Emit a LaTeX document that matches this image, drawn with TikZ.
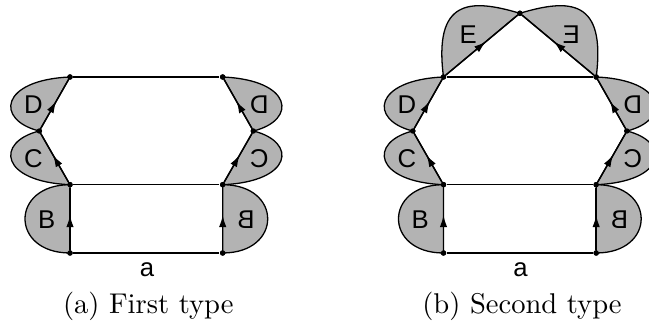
\documentclass[tikz,border=0pt]{standalone}
\usepackage{fontspec}
\setsansfont{Liberation Sans}
\usepackage{graphicx}
\usetikzlibrary{arrows.meta,decorations.markings}
\definecolor{LobeGray}{HTML}{B3B3B3}
\tikzset{
  lobe/.style={draw=black,fill=LobeGray,line width=.45pt},
  edge/.style={draw=black,line width=.5pt},
  midarrow/.style={postaction={decorate},decoration={markings,
    mark=at position .56 with {\arrow{Latex[length=4.2pt,width=2.6pt]}}}},
  vertex/.style={circle,fill=black,inner sep=0pt,minimum size=1.9pt},
  letter/.style={font=\sffamily\small,inner sep=0pt},
  caption/.style={font=\normalsize,inner sep=0pt}
}
\begin{document}
\begin{tikzpicture}[x=.35pt,y=-.35pt]
  \useasboundingbox (0,0) rectangle (649,329);
  \clip (0,0) rectangle (649,329);
  % first type
  \node[vertex] (aBL) at (70,253) {};
  \node[vertex] (aBR) at (222.7,253) {};
  \node[vertex] (aML) at (70,184.7) {};
  \node[vertex] (aMR) at (222.7,184.7) {};
  \node[vertex] (aJL) at (39.3,131) {};
  \node[vertex] (aJR) at (253.4,131) {};
  \node[vertex] (aTL) at (70,77) {};
  \node[vertex] (aTR) at (222.7,77) {};
  \fill[lobe] (aML.center) .. controls +(-60,0) and +(-60,0) .. (aBL.center) -- cycle;
  \fill[lobe] (aJL.center) .. controls +(-44.3,11) and +(-70,-3) .. (aML.center) -- cycle;
  \fill[lobe] (aJL.center) .. controls +(-44.3,-11) and +(-70,3) .. (aTL.center) -- cycle;
  \fill[lobe] (aMR.center) .. controls +(60,0) and +(60,0) .. (aBR.center) -- cycle;
  \fill[lobe] (aJR.center) .. controls +(44.3,11) and +(70,-3) .. (aMR.center) -- cycle;
  \fill[lobe] (aJR.center) .. controls +(44.3,-11) and +(70,3) .. (aTR.center) -- cycle;
  \draw[edge] (aBL)--(aBR); \draw[edge] (aML)--(aMR); \draw[edge] (aTL)--(aTR);
  \draw[edge,midarrow] (aBL)--(aML); \draw[edge,midarrow] (aML)--(aJL);
  \draw[edge,midarrow] (aJL)--(aTL);
  \draw[edge,midarrow] (aBR)--(aMR); \draw[edge,midarrow] (aMR)--(aJR);
  \draw[edge,midarrow] (aJR)--(aTR);
  \node[vertex] at (aBL) {}; \node[vertex] at (aBR) {};
  \node[vertex] at (aML) {}; \node[vertex] at (aMR) {};
  \node[vertex] at (aJL) {}; \node[vertex] at (aJR) {};
  \node[vertex] at (aTL) {}; \node[vertex] at (aTR) {};
  \node[letter] (aB1) at (46.7,220) {B};
  \node[letter] (aC1) at (33.3,158.3) {C};
  \node[letter] (aD1) at (33.3,105) {D};
  \node[letter] (aB2) at (246,220) {\reflectbox{B}};
  \node[letter] (aC2) at (259.4,158.3) {\reflectbox{C}};
  \node[letter] (aD2) at (259.4,105) {\reflectbox{D}};
  \node[letter] (aa) at (147,270) {a};
  \node[caption] (acap) at (148.3,306) {(a) First type};
  % second type
  \node[vertex] (bBL) at (443.5,253) {};
  \node[vertex] (bBR) at (596.2,253) {};
  \node[vertex] (bML) at (443.5,184.7) {};
  \node[vertex] (bMR) at (596.2,184.7) {};
  \node[vertex] (bJL) at (412.8,131) {};
  \node[vertex] (bJR) at (626.9,131) {};
  \node[vertex] (bTL) at (443.5,77) {};
  \node[vertex] (bTR) at (596.2,77) {};
  \node[vertex] (bTop) at (519.85,13.3) {};
  \fill[lobe] (bML.center) .. controls +(-60,0) and +(-60,0) .. (bBL.center) -- cycle;
  \fill[lobe] (bJL.center) .. controls +(-44.3,11) and +(-70,-3) .. (bML.center) -- cycle;
  \fill[lobe] (bJL.center) .. controls +(-44.3,-11) and +(-70,3) .. (bTL.center) -- cycle;
  \fill[lobe] (bMR.center) .. controls +(60,0) and +(60,0) .. (bBR.center) -- cycle;
  \fill[lobe] (bJR.center) .. controls +(44.3,11) and +(70,-3) .. (bMR.center) -- cycle;
  \fill[lobe] (bJR.center) .. controls +(44.3,-11) and +(70,3) .. (bTR.center) -- cycle;
  \fill[lobe] (bTL.center) .. controls +(-10,-78) and +(-50,-15) .. (bTop.center) -- cycle;
  \fill[lobe] (bTR.center) .. controls +(10,-78) and +(50,-15) .. (bTop.center) -- cycle;
  \draw[edge] (bBL)--(bBR); \draw[edge] (bML)--(bMR); \draw[edge] (bTL)--(bTR);
  \draw[edge,midarrow] (bBL)--(bML); \draw[edge,midarrow] (bML)--(bJL);
  \draw[edge,midarrow] (bJL)--(bTL); \draw[edge,midarrow] (bTL)--(bTop);
  \draw[edge,midarrow] (bBR)--(bMR); \draw[edge,midarrow] (bMR)--(bJR);
  \draw[edge,midarrow] (bJR)--(bTR); \draw[edge,midarrow] (bTR)--(bTop);
  \node[vertex] at (bBL) {}; \node[vertex] at (bBR) {};
  \node[vertex] at (bML) {}; \node[vertex] at (bMR) {};
  \node[vertex] at (bJL) {}; \node[vertex] at (bJR) {};
  \node[vertex] at (bTL) {}; \node[vertex] at (bTR) {};
  \node[vertex] at (bTop) {};
  \node[letter] (bB1) at (420.2,220) {B};
  \node[letter] (bC1) at (406.8,158.3) {C};
  \node[letter] (bD1) at (406.8,105) {D};
  \node[letter] (bE1) at (468.3,35) {E};
  \node[letter] (bB2) at (619.5,220) {\reflectbox{B}};
  \node[letter] (bC2) at (632.9,158.3) {\reflectbox{C}};
  \node[letter] (bD2) at (632.9,105) {\reflectbox{D}};
  \node[letter] (bE2) at (571.4,35) {\reflectbox{E}};
  \node[letter] (ba) at (520.5,270) {a};
  \node[caption] (bcap) at (522,306) {(b) Second type};
\end{tikzpicture}
\end{document}
